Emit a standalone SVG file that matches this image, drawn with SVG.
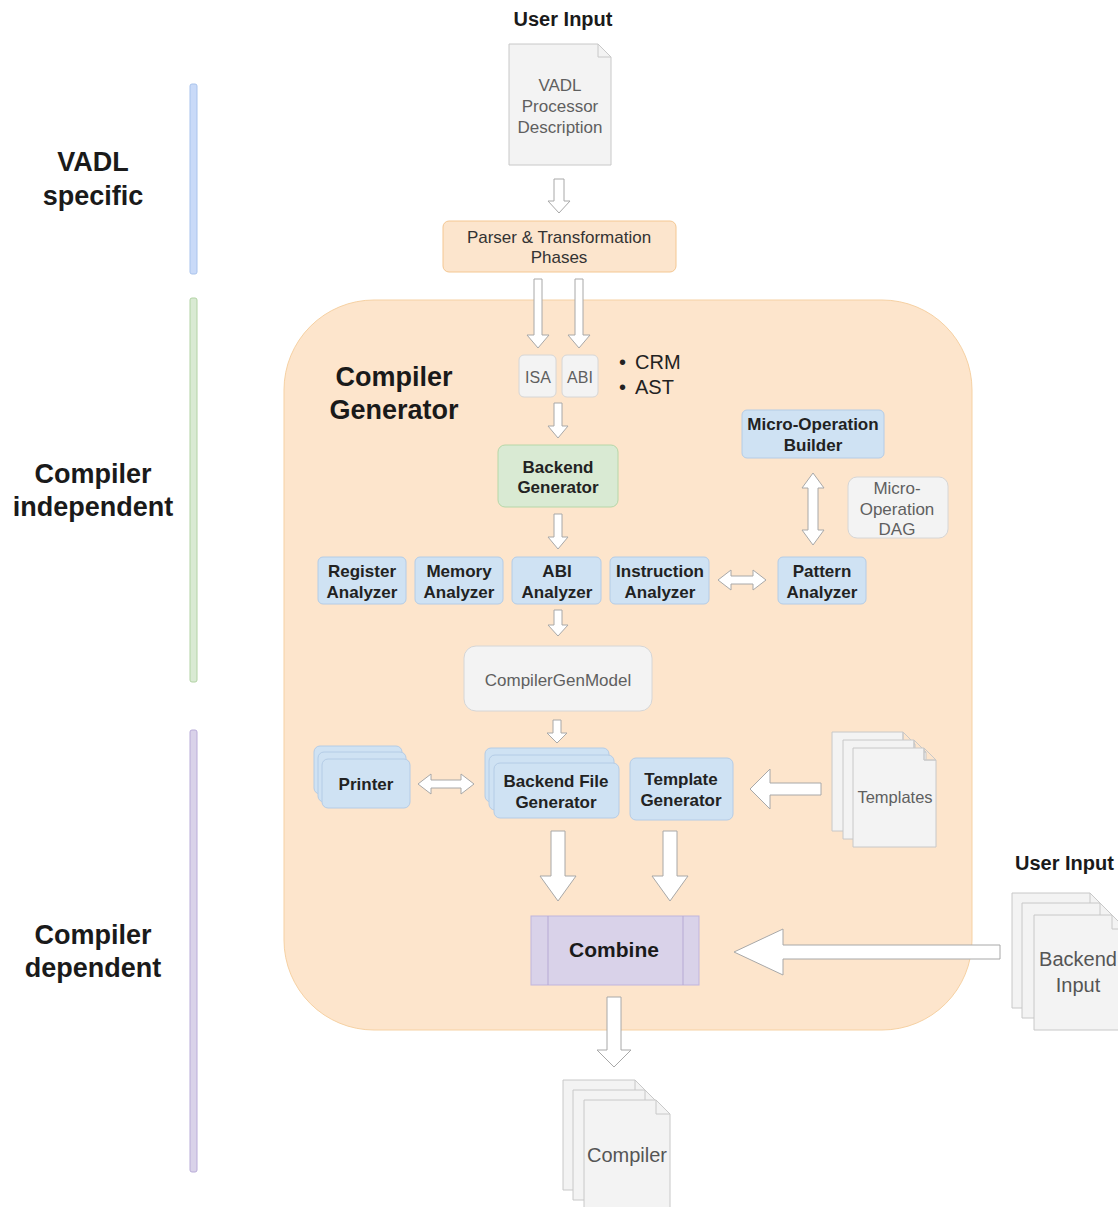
<svg xmlns="http://www.w3.org/2000/svg" width="1118" height="1207" viewBox="0 0 1118 1207">
<style>
text{font-family:"Liberation Sans",Arial,sans-serif;text-anchor:middle}
.side{font-size:27px;font-weight:bold;fill:#1a1a1a}
.hdr{font-size:20px;font-weight:bold;fill:#1a1a1a}
.gray{font-size:17px;fill:#5f5f5f}
.docl{font-size:20px;fill:#555}
.bold{font-size:17px;font-weight:bold;fill:#222}
.blue{fill:#cfe2f3;stroke:#b4cce6;stroke-width:1}
.grey{fill:#f3f3f3;stroke:#d6d6d6;stroke-width:1}
.page{fill:#f3f3f3;stroke:#c8c8c8;stroke-width:1}
.fold{fill:none;stroke:#c8c8c8;stroke-width:1}
.arr{fill:#ffffff;stroke:#a8a8a8;stroke-width:1;stroke-linejoin:miter}
</style>
<defs>
<path id="pgT" d="M0,0 L71,0 L83,12 L83,99 L0,99 Z M71,0 L71,12 L83,12"/>
</defs>
<rect width="1118" height="1207" fill="#ffffff"/>

<g id="lanes">
<rect x="190" y="84" width="7" height="190" rx="2" fill="#c9daf8" stroke="#a9c3ec"/>
<rect x="190" y="298" width="7" height="384" rx="2" fill="#d9ead3" stroke="#b2d3a4"/>
<rect x="190" y="730" width="7" height="442" rx="2" fill="#d9d2e9" stroke="#b9acd8"/>
<text class="side" x="93" y="171">VADL</text>
<text class="side" x="93" y="205">specific</text>
<text class="side" x="93" y="483">Compiler</text>
<text class="side" x="93" y="516">independent</text>
<text class="side" x="93" y="944">Compiler</text>
<text class="side" x="93" y="977">dependent</text>
</g>

<g id="compiler-generator">
<rect x="284" y="300" width="688" height="730" rx="90" fill="#fde5cc" stroke="#f6d1a3" stroke-width="1"/>
<text x="394" y="386" style="font-size:27px;font-weight:bold;fill:#1a1a1a">Compiler</text>
<text x="394" y="419" style="font-size:27px;font-weight:bold;fill:#1a1a1a">Generator</text>
</g>

<g id="user-input-top">
<text class="hdr" x="563" y="26">User Input</text>
</g>

<g id="vadl-doc">
<path class="page" d="M509,44 L598,44 L611,57 L611,165 L509,165 Z"/>
<path class="fold" d="M598,44 L598,57 L611,57"/>
<text class="gray" x="560" y="91">VADL</text>
<text class="gray" x="560" y="112">Processor</text>
<text class="gray" x="560" y="133">Description</text>
</g>

<g id="parser">
<rect x="443" y="221" width="233" height="51" rx="6" fill="#fce5cd" stroke="#f4c792"/>
<text x="559" y="243" style="font-size:17px;fill:#333">Parser &amp; Transformation</text>
<text x="559" y="263" style="font-size:17px;fill:#333">Phases</text>
</g>

<g id="isa">
<rect class="grey" x="519" y="355" width="37" height="42" rx="5"/>
<text x="538" y="383" style="font-size:16px;fill:#5f5f5f">ISA</text>
</g>
<g id="abi">
<rect class="grey" x="562" y="355" width="36" height="42" rx="5"/>
<text x="580" y="383" style="font-size:16px;fill:#5f5f5f">ABI</text>
</g>
<g id="bullets">
<text x="619" y="369" style="font-size:20px;fill:#222;text-anchor:start">•</text>
<text x="635" y="369" style="font-size:20px;fill:#222;text-anchor:start">CRM</text>
<text x="619" y="394" style="font-size:20px;fill:#222;text-anchor:start">•</text>
<text x="635" y="394" style="font-size:20px;fill:#222;text-anchor:start">AST</text>
</g>

<g id="backend-generator">
<rect x="498" y="445" width="120" height="62" rx="7" fill="#d9ead3" stroke="#b6d7a8"/>
<text class="bold" x="558" y="473">Backend</text>
<text class="bold" x="558" y="493">Generator</text>
</g>

<g id="micro-op-builder">
<rect class="blue" x="742" y="410" width="142" height="48" rx="5"/>
<text class="bold" x="813" y="430">Micro-Operation</text>
<text class="bold" x="813" y="451">Builder</text>
</g>

<g id="micro-op-dag">
<rect class="grey" x="848" y="477" width="100" height="61" rx="9"/>
<text class="gray" x="897" y="494">Micro-</text>
<text class="gray" x="897" y="515">Operation</text>
<text class="gray" x="897" y="535">DAG</text>
</g>

<g id="register-analyzer">
<rect class="blue" x="318" y="557" width="88" height="47" rx="5"/>
<text class="bold" x="362" y="577">Register</text>
<text class="bold" x="362" y="598">Analyzer</text>
</g>
<g id="memory-analyzer">
<rect class="blue" x="415" y="557" width="88" height="47" rx="5"/>
<text class="bold" x="459" y="577">Memory</text>
<text class="bold" x="459" y="598">Analyzer</text>
</g>
<g id="abi-analyzer">
<rect class="blue" x="512" y="557" width="89" height="47" rx="5"/>
<text class="bold" x="557" y="577">ABI</text>
<text class="bold" x="557" y="598">Analyzer</text>
</g>
<g id="instruction-analyzer">
<rect class="blue" x="610" y="557" width="99" height="47" rx="5"/>
<text class="bold" x="660" y="577">Instruction</text>
<text class="bold" x="660" y="598">Analyzer</text>
</g>
<g id="pattern-analyzer">
<rect class="blue" x="778" y="557" width="88" height="47" rx="5"/>
<text class="bold" x="822" y="577">Pattern</text>
<text class="bold" x="822" y="598">Analyzer</text>
</g>

<g id="compilergenmodel">
<rect class="grey" x="464" y="646" width="188" height="65" rx="12"/>
<text class="gray" x="558" y="686">CompilerGenModel</text>
</g>

<g id="printer">
<rect class="blue" x="314" y="746" width="88" height="48" rx="6"/>
<rect class="blue" x="318" y="752" width="88" height="50" rx="6"/>
<rect class="blue" x="322" y="759" width="88" height="49" rx="6"/>
<text class="bold" x="366" y="790">Printer</text>
</g>

<g id="backend-file-generator">
<rect class="blue" x="485" y="748" width="124" height="54" rx="6"/>
<rect class="blue" x="489" y="755" width="125" height="55" rx="6"/>
<rect class="blue" x="494" y="763" width="125" height="55" rx="6"/>
<text class="bold" x="556" y="787">Backend File</text>
<text class="bold" x="556" y="808">Generator</text>
</g>

<g id="template-generator">
<rect class="blue" x="630" y="758" width="103" height="62" rx="6"/>
<text class="bold" x="681" y="785">Template</text>
<text class="bold" x="681" y="806">Generator</text>
</g>

<g id="templates">
<use href="#pgT" x="832" y="732" class="page"/>
<path class="fold" transform="translate(832,732)" d="M71,0 L71,12 L83,12"/>
<use href="#pgT" x="843" y="740" class="page"/>
<path class="fold" transform="translate(843,740)" d="M71,0 L71,12 L83,12"/>
<use href="#pgT" x="853" y="748" class="page"/>
<path class="fold" transform="translate(853,748)" d="M71,0 L71,12 L83,12"/>
<text x="895" y="803" style="font-size:16.5px;fill:#5f5f5f">Templates</text>
</g>

<g id="combine">
<rect x="531" y="916" width="168" height="69" fill="#d9d2e9" stroke="#c0b5dc"/>
<line x1="548" y1="916" x2="548" y2="985" stroke="#b6a9d4"/>
<line x1="683" y1="916" x2="683" y2="985" stroke="#b6a9d4"/>
<text x="614" y="957" style="font-size:21px;font-weight:bold;fill:#1a1a1a">Combine</text>
</g>

<g id="user-input-right">
<text class="hdr" x="1015" y="870" style="text-anchor:start">User Input</text>
</g>

<g id="backend-input">
<path class="page" d="M1012,893 L1090,893 L1104,907 L1104,1008 L1012,1008 Z"/>
<path class="fold" d="M1090,893 L1090,907 L1104,907"/>
<path class="page" d="M1022,903 L1100,903 L1114,917 L1114,1018 L1022,1018 Z"/>
<path class="fold" d="M1100,903 L1100,917 L1114,917"/>
<path class="page" d="M1034,915 L1112,915 L1126,929 L1126,1030 L1034,1030 Z"/>
<path class="fold" d="M1112,915 L1112,929 L1126,929"/>
<text class="docl" x="1078" y="966">Backend</text>
<text class="docl" x="1078" y="992">Input</text>
</g>

<g id="compiler-output">
<path class="page" d="M563,1080 L635,1080 L649,1094 L649,1190 L563,1190 Z"/>
<path class="fold" d="M635,1080 L635,1094 L649,1094"/>
<path class="page" d="M573,1090 L645,1090 L659,1104 L659,1200 L573,1200 Z"/>
<path class="fold" d="M645,1090 L645,1104 L659,1104"/>
<path class="page" d="M584,1100 L656,1100 L670,1114 L670,1212 L584,1212 Z"/>
<path class="fold" d="M656,1100 L656,1114 L670,1114"/>
<text class="docl" x="627" y="1162">Compiler</text>
</g>

<g id="connectors">
<path class="arr" d="M554,179 L564,179 L564,201 L570,201 L559,213 L548,201 L554,201 Z"/>
<path class="arr" d="M534,279 L542,279 L542,335 L549,335 L538,348 L527,335 L534,335 Z"/>
<path class="arr" d="M575,279 L583,279 L583,335 L590,335 L579,348 L568,335 L575,335 Z"/>
<path class="arr" d="M554,403 L562,403 L562,426 L568,426 L558,438 L548,426 L554,426 Z"/>
<path class="arr" d="M554,514 L562,514 L562,537 L568,537 L558,549 L548,537 L554,537 Z"/>
<path class="arr" d="M554,610 L562,610 L562,625 L568,625 L558,636 L548,625 L554,625 Z"/>
<path class="arr" d="M553,720 L561,720 L561,733 L567,733 L557,743 L547,733 L553,733 Z"/>
<path class="arr" d="M551,831 L565,831 L565,876 L576,876 L558,901 L540,876 L551,876 Z"/>
<path class="arr" d="M663,831 L677,831 L677,876 L688,876 L670,901 L652,876 L663,876 Z"/>
<path class="arr" d="M607,997 L621,997 L621,1050 L631,1050 L614,1067 L597,1050 L607,1050 Z"/>
<path class="arr" d="M821,783 L770,783 L770,769 L750,789 L770,809 L770,795 L821,795 Z"/>
<path class="arr" d="M1000,945 L783,945 L783,929 L734,952 L783,975 L783,959 L1000,959 Z"/>
<path class="arr" d="M418,784 L431,774 L431,780 L461,780 L461,774 L474,784 L461,794 L461,788 L431,788 L431,794 Z"/>
<path class="arr" d="M718,580 L731,570 L731,576 L753,576 L753,570 L766,580 L753,590 L753,584 L731,584 L731,590 Z"/>
<path class="arr" d="M813,473 L824,488 L818,488 L818,530 L824,530 L813,545 L802,530 L808,530 L808,488 L802,488 Z"/>
</g>
</svg>
